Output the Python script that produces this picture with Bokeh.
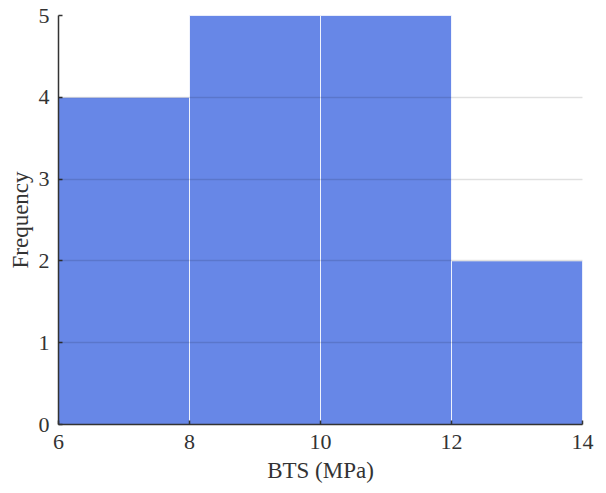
from bokeh.plotting import figure
from bokeh.models import Range1d, FixedTicker
from bokeh.embed import file_html
from bokeh.resources import INLINE

bin_left = [6, 8, 10, 12]
bin_right = [8, 10, 12, 14]
counts = [4, 5, 5, 2]
x_ticks = [6, 8, 10, 12, 14]
y_ticks = [0, 1, 2, 3, 4, 5]

p = figure(width=600, height=490, output_backend="svg", toolbar_location=None,
           x_range=Range1d(6, 14), y_range=Range1d(0, 5),
           min_border_left=58, min_border_top=15, min_border_right=18, min_border_bottom=66)
p.outline_line_color = None

p.quad(left=bin_left, right=bin_right, bottom=0, top=counts,
       fill_color="royalblue", fill_alpha=0.8, line_color="white", line_width=1, line_alpha=0.8)

font = "Liberation Serif"
for ax in (p.xaxis, p.yaxis):
    ax.axis_line_color = "#333333"
    ax.axis_line_width = 1.5
    ax.major_tick_line_color = "#333333"
    ax.major_tick_line_width = 1.5
    ax.major_tick_in = 4
    ax.major_tick_out = 0
    ax.minor_tick_line_color = None
    ax.major_label_text_font = font
    ax.major_label_text_font_size = "22px"
    ax.major_label_text_color = "#333333"
    ax.axis_label_text_font = font
    ax.axis_label_text_font_size = "23px"
    ax.axis_label_text_font_style = "normal"
    ax.axis_label_text_color = "#333333"

p.xaxis.ticker = FixedTicker(ticks=x_ticks)
p.yaxis.ticker = FixedTicker(ticks=y_ticks)
p.xaxis.axis_label = "BTS (MPa)"
p.yaxis.axis_label = "Frequency"
p.xaxis.major_label_standoff = 10
p.yaxis.major_label_standoff = 9
p.xaxis.axis_label_standoff = 6
p.yaxis.axis_label_standoff = 3

p.xgrid.grid_line_color = None
p.ygrid.grid_line_color = "black"
p.ygrid.grid_line_alpha = 0.12
p.ygrid.grid_line_width = 1.5
p.ygrid.level = "overlay"

open("out.html", "w").write(file_html(p, INLINE))
